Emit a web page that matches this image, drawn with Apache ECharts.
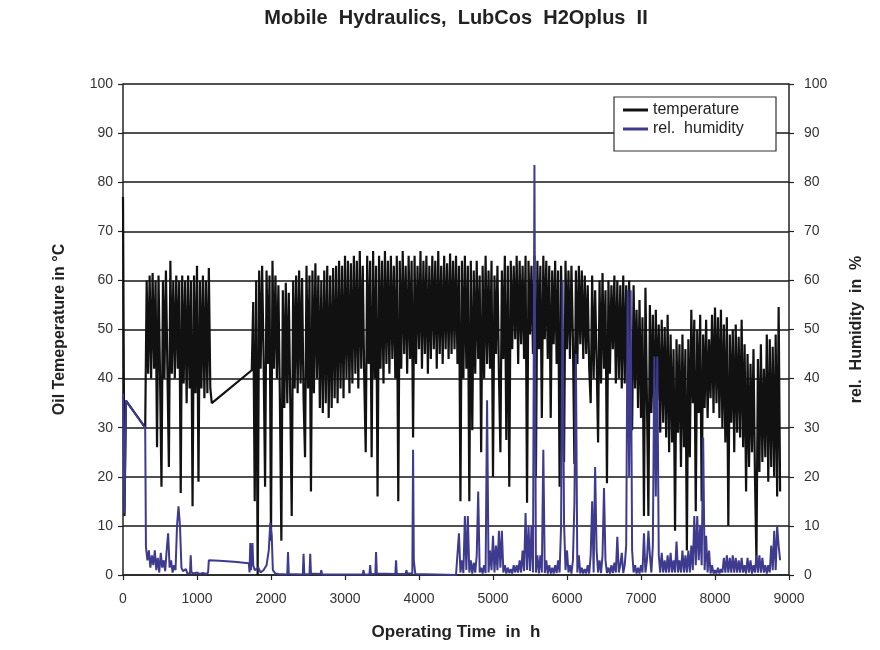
<!DOCTYPE html>
<html>
<head>
<meta charset="utf-8">
<script src="https://cdn.jsdelivr.net/npm/echarts@6/dist/echarts.min.js"></script>
<style>
html,body{margin:0;padding:0;background:#fff;}
#chart{width:880px;height:650px;}
</style>
</head>
<body>
<div id="chart"></div>
<script>
// ---------- DATA ----------
const chartTitle = 'Mobile  Hydraulics,  LubCos  H2Oplus  II';
const xName = 'Operating Time  in  h';
const yLeftName = 'Oil Temeperature in °C';
const yRightName = 'rel.  Humidity  in  %';
const seriesNames = ['temperature', 'rel.  humidity'];

// sampling interval of the logged runs (hours)
const sampleStep = 20;

// temperature: first isolated samples [hour, °C]
const tempHead = [[0, 77], [20, 12], [40, 35.5], [300, 30]];
// temperature run 1 starts at 320 h
const tempRun1Start = 320;
const tempRun1 = [
  60, 41, 61, 40, 61.5, 42, 60, 26, 61, 41,
  18, 60, 40, 62, 42, 22, 64, 41, 60, 40,
  61, 42, 60, 16.7, 61, 39, 60, 35, 61, 38,
  60, 14, 61, 37, 63, 19, 60, 38, 61, 36,
  60, 37, 62.5, 38, 35
];
// temperature run 2 starts at 1740 h
const tempRun2Start = 1740;
const tempRun2 = [
  41.7, 55.6, 15, 60, 0, 62, 42, 63, 44, 18,
  62, 43, 61, 7, 64, 42, 61, 40, 59, 36,
  7, 58, 34, 59.5, 35, 57.5, 36, 12, 60, 38,
  61, 37, 62, 39, 60.5, 36, 24, 63, 38, 61,
  17, 62, 37, 63.5, 40, 61, 34, 60, 33, 62,
  35, 63, 32, 61, 34, 62.5, 36, 63, 35, 64,
  38, 63, 36, 65, 40, 64, 37, 63.5, 39, 65,
  41, 64, 38, 66, 42, 63, 40, 25, 65, 43,
  64, 24, 66, 40, 63, 16, 65, 42, 64, 39,
  66, 43, 64, 41, 65, 44, 63, 40, 65, 15,
  64, 42, 66, 45, 63, 41, 65, 44, 64, 28,
  65, 43, 63, 46, 66, 42, 64, 45, 65, 41,
  63, 44, 65, 46, 64, 42, 66, 45, 63, 43,
  65, 46, 63.5, 44, 65.5, 45, 64, 46, 65, 43,
  63, 15, 64, 40, 65, 42, 63, 15, 64, 29.5,
  62, 41, 64, 44, 61, 25, 63, 40, 65, 43,
  62, 42, 64, 20, 61, 45, 63, 41, 25, 62,
  44, 65, 27.5, 63, 18, 64, 46, 63, 48, 65,
  43, 64, 47, 63, 44, 65, 14.7, 64, 49, 63,
  45, 65, 20, 64, 46, 63, 32, 65, 48, 64,
  44, 63, 32, 62, 47, 64, 43, 62, 18, 63,
  45, 23, 64, 46, 62, 44, 63, 48, 22.6, 62,
  43, 63, 47, 62, 44, 61, 45, 59, 42, 35,
  61, 40, 58, 44, 27, 60, 39, 61.5, 42, 58,
  18.7, 60, 41, 59, 46, 61, 39, 60, 40, 59,
  38, 61, 39, 59, 37.6, 60, 40, 29.5, 59, 38,
  54, 34, 56, 32, 52.5, 12, 58.5, 36, 12, 55,
  33, 53, 30, 54, 35.6, 51, 29, 52, 31, 50.5,
  28, 53, 25, 49, 27, 46, 9, 48, 29, 47,
  22, 49, 26, 46, 5, 48, 24, 54, 35, 52,
  13, 50, 33, 53, 15, 49, 34, 52, 32, 48,
  36, 53, 33, 54.5, 35, 52.5, 32, 54, 30, 51,
  27, 52.5, 10, 49, 31, 50, 25, 51, 29, 48.5,
  28, 52, 26, 47, 17, 45, 22, 43, 25, 46,
  20, 3, 44, 21, 47, 23, 42, 24, 49, 19,
  48, 22, 46.5, 20, 49, 16, 54.6, 17
];

// humidity: sparse part [hour, %]
const humSparse = [
  [0, 37], [20, 12.6], [40, 35.5], [300, 30], [310, 5.7], [330, 3], [350, 5], [370, 1.5],
  [390, 4], [410, 2], [430, 5], [450, 1], [470, 3.5], [490, 0.5], [510, 4.5], [530, 1.5],
  [550, 3], [570, 0.8], [590, 5], [610, 8.5], [630, 1.5], [650, 3], [670, 0.5], [690, 2],
  [710, 1], [730, 10], [750, 14], [770, 10], [790, 1.5], [810, 0.8], [830, 0.5], [850, 1.2],
  [870, 0.3], [890, 0.6], [905, 0.3], [915, 4], [925, 0.5], [960, 0.3], [1000, 0.5],
  [1040, 0.2], [1080, 0.4], [1120, 0.2], [1150, 0.5], [1160, 3], [1300, 2.9], [1500, 2.7],
  [1700, 2.4], [1710, 0.5], [1720, 6.5], [1730, 1], [1750, 6.5], [1760, 2], [1780, 1],
  [1800, 0.8], [1830, 1.5], [1860, 0.5], [1900, 1], [1940, 2], [1970, 5], [1990, 10.6],
  [2010, 8], [2025, 1], [2060, 0.3], [2100, 0.2], [2220, 0.1], [2230, 4.7], [2240, 0.2],
  [2430, 0.1], [2440, 4.3], [2450, 0.2], [2520, 0.1], [2530, 4.3], [2540, 0.3], [2670, 0.2],
  [2680, 1], [2690, 0.1], [3240, 0.1], [3250, 1], [3260, 0.1], [3330, 0.1], [3340, 2],
  [3350, 0.2], [3410, 0.2], [3420, 4.7], [3430, 0.3], [3680, 0.2], [3690, 3], [3700, 0.2],
  [3820, 0.2], [3830, 1], [3840, 0.3], [3910, 0.3], [3920, 25.5], [3930, 3], [3950, 0.2],
  [4500, 0]
];
// humidity: dense logged run starting at 4520 h
const humRunStart = 4520;
const humRun = [
  0.3, 8.5, 0.5, 3, 0.4, 12, 1, 12, 0.5, 3,
  0.3, 2.5, 0.5, 4, 17, 0.5, 1.5, 0.3, 2, 0.4,
  35.6, 0.5, 5, 1, 8, 0.5, 6, 1, 9, 1.5,
  9, 0.5, 2, 0.3, 1.5, 0.4, 1.2, 0.3, 2, 0.5,
  2, 0.5, 3, 0.5, 5, 0.8, 12.6, 1, 10, 0.8,
  10, 0.5, 83.5, 0.5, 4, 0.3, 4, 0.5, 25.5, 0.4,
  3, 0.3, 2, 0.3, 1.5, 0.3, 2, 0.4, 3, 0.5,
  10, 60, 10.6, 1, 5, 0.5, 2, 0.3, 3, 14.6,
  45, 0.5, 4, 0.3, 1.5, 0.3, 1.2, 0.3, 2, 0.3,
  4, 15, 0.5, 22, 5, 0.5, 3, 0.4, 4, 17.7,
  3, 0.4, 1.5, 0.3, 2, 0.4, 2.5, 0.5, 7.8, 0.5,
  2, 4.5, 0.4, 2, 6, 58, 20, 58, 5, 0.5,
  2, 0.3, 1.5, 0.3, 2, 0.5, 8.5, 0.5, 3, 9,
  4, 0.5, 6, 44.5, 16, 44.5, 4, 0.5, 4.5, 0.5,
  3, 0.5, 4, 0.5, 4.5, 0.5, 3, 0.5, 6.8, 0.5,
  3, 0.5, 5, 0.5, 4, 0.5, 5, 0.5, 6, 1,
  12, 2, 12, 3, 10, 2, 28, 1, 8, 0.5,
  5, 0.3, 2, 0.3, 1, 0.3, 1.5, 0.3, 1.2, 0.5,
  3.5, 0.5, 4, 0.5, 3.5, 0.5, 4, 0.5, 3.5, 0.5,
  3, 0.5, 3.5, 0.5, 2, 0.3, 3.5, 0.5, 3, 0.3,
  2, 0.5, 4, 0.5, 4, 0.5, 3.5, 0.5, 2, 0.3,
  2, 0.5, 6, 1, 9, 1, 10, 6, 3
];

// ---------- BUILD ----------
function run(start, vals) {
  return vals.map((v, i) => [start + i * sampleStep, v]);
}
const tempData = tempHead.concat(run(tempRun1Start, tempRun1), run(tempRun2Start, tempRun2));
const humData = humSparse.concat(run(humRunStart, humRun));

const font = 'Liberation Sans, Arial, sans-serif';
const chart = echarts.init(document.getElementById('chart'), null, {renderer: 'canvas'});

const yCommon = {
  type: 'value', min: 0, max: 100, interval: 10,
  axisLine: {show: true, lineStyle: {color: '#222', width: 1.5}},
  axisTick: {show: true, inside: false, length: 5, lineStyle: {color: '#222', width: 1.2}},
  nameLocation: 'middle', nameRotate: 90,
  nameTextStyle: {fontSize: 16, fontWeight: 'bold', color: '#222', fontFamily: font}
};

chart.setOption({
  animation: false,
  backgroundColor: '#fff',
  grid: {left: 123, right: 91, top: 84, bottom: 75, containLabel: false},
  xAxis: {
    type: 'value', min: 0, max: 9000, interval: 1000,
    axisLine: {show: true, onZero: false, lineStyle: {color: '#222', width: 1.5}},
    axisTick: {show: true, length: 5, lineStyle: {color: '#222', width: 1.2}},
    axisLabel: {fontSize: 14, color: '#333', fontFamily: font, margin: 17,
      formatter: v => String(v)},
    splitLine: {show: false},
    name: xName, nameLocation: 'middle', nameGap: 49,
    nameTextStyle: {fontSize: 17, fontWeight: 'bold', color: '#222', fontFamily: font}
  },
  yAxis: [
    Object.assign({}, yCommon, {
      position: 'left', name: yLeftName, nameGap: 55,
      axisLabel: {fontSize: 14, color: '#333', fontFamily: font, margin: 10},
      splitLine: {show: true, lineStyle: {color: '#505050', width: 1.8}}
    }),
    Object.assign({}, yCommon, {
      position: 'right', name: yRightName, nameGap: 60,
      axisLabel: {fontSize: 14, color: '#333', fontFamily: font, margin: 15},
      splitLine: {show: false}
    })
  ],
  graphic: [
    {
      type: 'text', z: 50, x: 456, y: 18,
      style: {text: chartTitle, textAlign: 'center', textVerticalAlign: 'middle',
        font: 'bold 20px ' + font, fill: '#222'}
    },
    {
      type: 'rect', z: 50,
      shape: {x: 614, y: 97, width: 162, height: 54},
      style: {fill: '#fff', stroke: '#333', lineWidth: 1.2}
    }
  ],
  legend: {
    z: 60, orient: 'vertical', left: 623, top: 102, padding: 0,
    itemWidth: 25, itemHeight: 3, itemGap: 3, icon: 'rect',
    textStyle: {fontSize: 16, color: '#222', fontFamily: font},
    data: seriesNames
  },
  series: [
    {
      name: seriesNames[0], type: 'line', yAxisIndex: 0, data: tempData,
      showSymbol: false, symbol: 'none', silent: true,
      lineStyle: {color: '#111', width: 2.2}, itemStyle: {color: '#111'}, z: 2
    },
    {
      name: seriesNames[1], type: 'line', yAxisIndex: 1, data: humData,
      showSymbol: false, symbol: 'none', silent: true,
      lineStyle: {color: '#3e3a8e', width: 2}, itemStyle: {color: '#3e3a8e'}, z: 3
    }
  ]
});
</script>
</body>
</html>
